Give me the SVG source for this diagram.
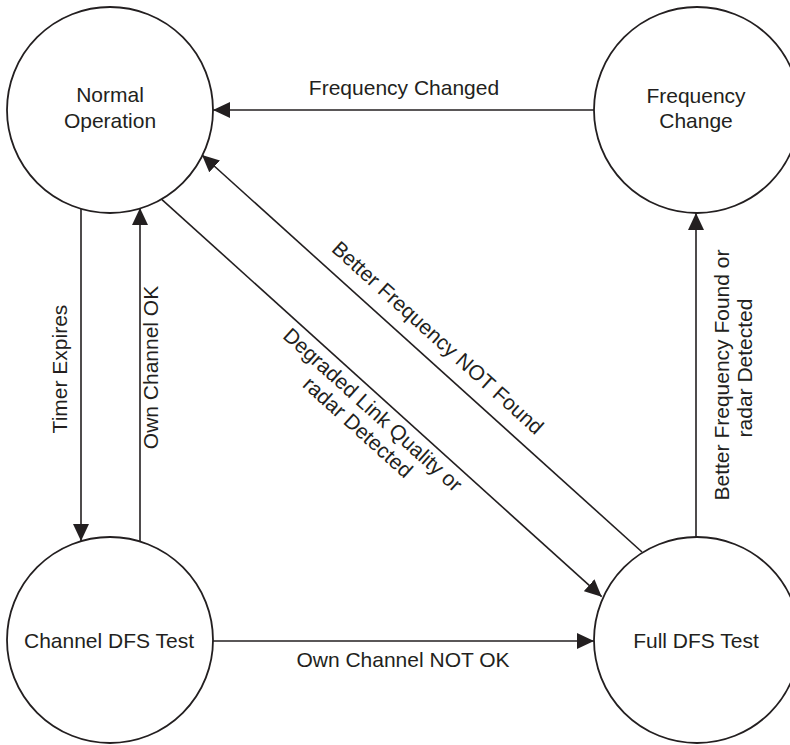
<svg xmlns="http://www.w3.org/2000/svg" width="790" height="745" viewBox="0 0 790 745">
  <style>
    .state { fill: #ffffff; stroke: #231f20; stroke-width: 1.8; }
    .label { font-family: "Liberation Sans", Arial, Helvetica, sans-serif; font-size: 21px; fill: #231f20; text-anchor: middle; }
    .edge { stroke: #231f20; stroke-width: 1.6; fill: none; marker-end: url(#arrow); }
  </style>
  <defs>
    <marker id="arrow" viewBox="0 0 17 16" markerWidth="17" markerHeight="16" refX="17" refY="8" orient="auto" markerUnits="userSpaceOnUse">
      <path d="M0,0 L17,8 L0,16 z" fill="#231f20"/>
    </marker>
  </defs>

  <rect x="0" y="0" width="790" height="745" fill="#ffffff"/>

  <!-- transitions -->
  <g id="connectors">
    <line class="edge" x1="594" y1="110" x2="213" y2="110"/>
    <line class="edge" x1="81" y1="209" x2="81" y2="541"/>
    <line class="edge" x1="140" y1="541.5" x2="140" y2="208"/>
    <line class="edge" x1="642" y1="552" x2="202" y2="155"/>
    <line class="edge" x1="161.7" y1="199.3" x2="601.7" y2="596.7"/>
    <line class="edge" x1="213" y1="641" x2="594" y2="641"/>
    <line class="edge" x1="696" y1="537" x2="696" y2="213"/>

    <text class="label" x="404" y="95">Frequency Changed</text>
    <text class="label" transform="translate(67,369) rotate(-90)">Timer Expires</text>
    <text class="label" transform="translate(158,367.5) rotate(-90)">Own Channel OK</text>
    <text class="label" transform="translate(433,343) rotate(42.06)">Better Frequency NOT Found</text>
    <text class="label" transform="translate(368,415) rotate(42.06)">Degraded Link Quality or</text>
    <text class="label" transform="translate(353,432.5) rotate(42.06)">radar Detected</text>
    <text class="label" x="403" y="667">Own Channel NOT OK</text>
    <text class="label" transform="translate(728.5,375) rotate(-90)">Better Frequency Found or</text>
    <text class="label" transform="translate(751.5,368) rotate(-90)">radar Detected</text>
  </g>

  <!-- states -->
  <g id="normal-operation">
    <circle class="state" cx="110" cy="110" r="103"/>
    <text class="label" x="110" y="102">Normal</text>
    <text class="label" x="110" y="128">Operation</text>
  </g>
  <g id="frequency-change">
    <circle class="state" cx="697" cy="110" r="103"/>
    <text class="label" x="696" y="103">Frequency</text>
    <text class="label" x="696" y="128">Change</text>
  </g>
  <g id="channel-dfs-test">
    <circle class="state" cx="110" cy="640" r="103"/>
    <text class="label" x="109" y="648">Channel DFS Test</text>
  </g>
  <g id="full-dfs-test">
    <circle class="state" cx="697" cy="640" r="103"/>
    <text class="label" x="696" y="648">Full DFS Test</text>
  </g>
</svg>
